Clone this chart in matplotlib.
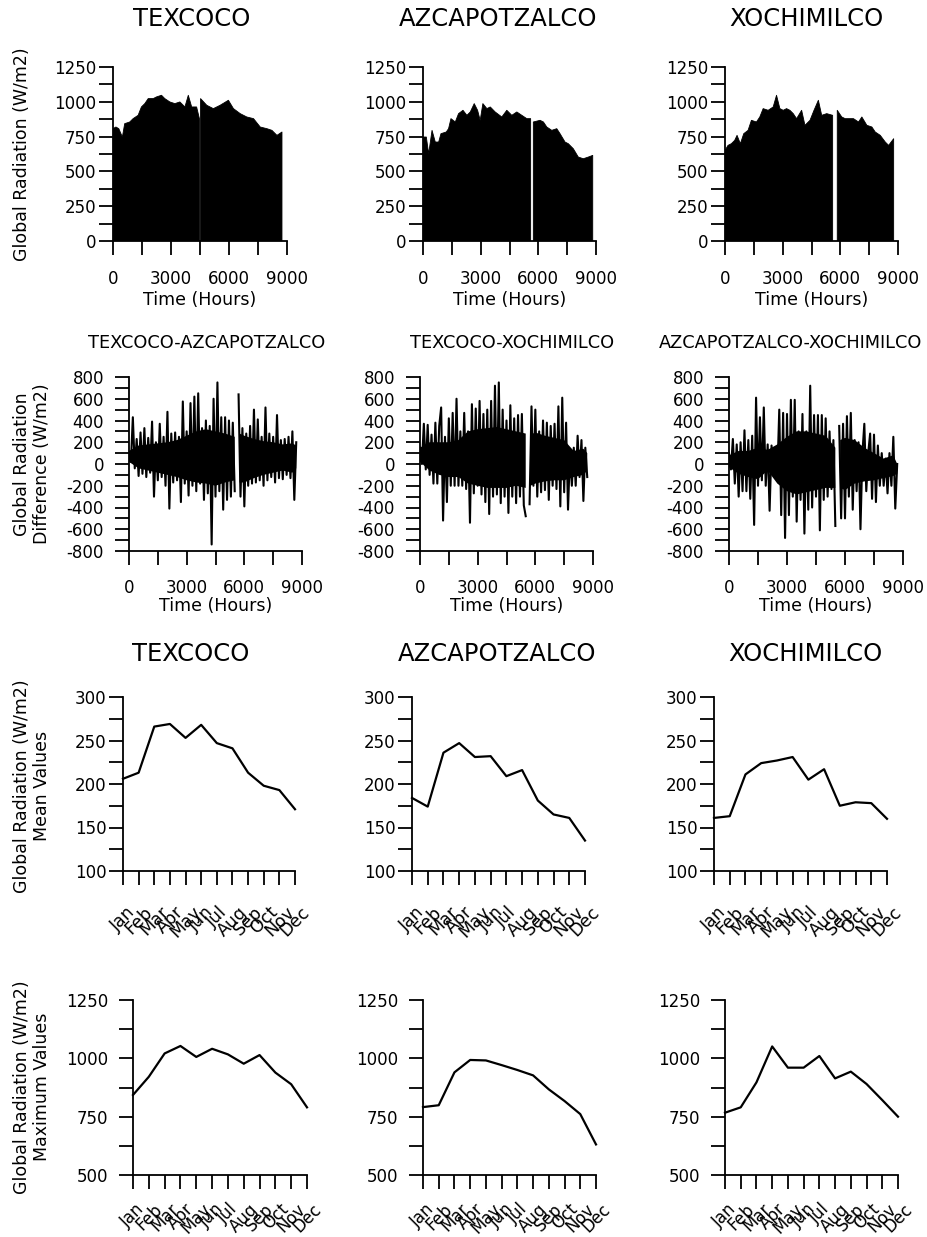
import numpy as np
import matplotlib
matplotlib.use('Agg')
import matplotlib.pyplot as plt
from matplotlib.ticker import MultipleLocator, FixedLocator

plt.rcParams['font.family'] = ['DejaVu Sans']
plt.rcParams['axes.unicode_minus'] = False

NAN = float('nan')

# ---------------- data ----------------
stations = ['TEXCOCO', 'AZCAPOTZALCO', 'XOCHIMILCO']
pairs = ['TEXCOCO-AZCAPOTZALCO', 'TEXCOCO-XOCHIMILCO', 'AZCAPOTZALCO-XOCHIMILCO']
months = ['Jan', 'Feb', 'Mar', 'Apr', 'May', 'Jun',
          'Jul', 'Aug', 'Sep', 'Oct', 'Nov', 'Dec']

# upper envelope (daily peaks) of hourly global radiation
texcoco_hours = [0, 150, 300, 485, 605, 865, 1040, 1300, 1470, 1645, 1820, 2080, 2250,
                 2510, 2680, 2940, 3200, 3460, 3720, 3895, 4070, 4325, 4470, 4500, 4530,
                 4850, 5190, 5540, 5970, 6230, 6580, 6920, 7270, 7615, 7960, 8220, 8480, 8740]
texcoco_peak = [807, 819, 807, 747, 843, 855, 879, 903, 963, 987, 1023, 1023, 1035,
                1047, 1023, 999, 987, 999, 963, 1047, 963, 963, 879, NAN, 1023,
                975, 951, 975, 1011, 951, 915, 891, 879, 819, 807, 795, 759, 783]

azcapotzalco_hours = [0, 173, 295, 470, 640, 815, 935, 1210, 1330, 1455, 1680, 1850, 2080,
                      2285, 2460, 2665, 2840, 2975, 3115, 3325, 3500, 3755, 4100, 4360, 4620,
                      4880, 5140, 5400, 5600, 5650, 5740, 6090, 6265, 6440, 6700, 6960, 7130,
                      7390, 7560, 7820, 8080, 8340, 8600, 8830]
azcapotzalco_peak = [747, 747, 627, 795, 711, 711, 771, 783, 807, 879, 855, 915, 939,
                     903, 927, 987, 939, 867, 987, 951, 963, 927, 891, 939, 903,
                     927, 903, 879, 879, NAN, 855, 867, 855, 819, 795, 807, 771,
                     711, 699, 663, 603, 591, 603, 615]

xochimilco_hours = [0, 157, 330, 505, 627, 800, 975, 1200, 1375, 1637, 1810, 1985, 2245,
                    2507, 2681, 2855, 3030, 3203, 3377, 3551, 3725, 3987, 4160, 4422, 4631,
                    4857, 5031, 5292, 5600, 5720, 5840, 6075, 6250, 6510, 6685, 6946, 7120,
                    7381, 7642, 7817, 8078, 8339, 8513, 8774]
xochimilco_peak = [650, 687, 699, 723, 759, 699, 771, 795, 867, 855, 891, 951, 939,
                   963, 1047, 951, 939, 951, 939, 915, 879, 939, 831, 867, 939,
                   1011, 903, 915, 903, NAN, 939, 891, 879, 879, 879, 855, 891,
                   831, 819, 783, 759, 711, 687, 735]

diff_step = 100
diff_tex_azc = [100, 20, 430, -40, 230, -110, 290, -90, 330, -120,
                240, -80, 390, -300, 200, -150, 370, -120, 250, -200,
                480, -410, 280, -170, 290, -150, 250, -350, 575, -180,
                300, -290, 560, -200, 620, -250, 650, -180, 330, -330,
                400, -270, 350, -740, 600, -300, 750, -250, 430, -420,
                430, -330, 400, -300, 380, -250, NAN, 640, -300, 330,
                -390, 280, -200, 350, -180, 500, -170, 410, -150, 250,
                -200, 520, -150, 280, -120, 250, -170, 450, -130, 220,
                -140, 230, -100, 250, -130, 300, -330, 200]
diff_tex_xoc = [150, 0, 370, -50, 360, -100, 270, -180, 380, -180,
                350, 520, -520, 250, -350, 420, -200, 470, -200, 600,
                -200, 300, -200, 470, -230, 300, -540, 550, -270, 510,
                -200, 580, -280, 460, -350, 500, -460, 580, -300, 720,
                -280, 750, -360, 500, -300, 400, -450, 540, -300, 420,
                -360, 450, -300, 460, -380, -480, NAN, -370, 530, -200,
                500, -300, 300, -260, 400, -240, 380, -330, 350, -200,
                370, -230, 530, -390, 610, -260, 380, -420, 100, -200,
                150, -200, 260, -120, 220, -340, 150, -120]
diff_azc_xoc = [100, -50, 230, -180, 180, -300, 200, -250, 310, -250,
                220, -320, 260, -560, 610, -200, 430, -150, 520, -200,
                180, -430, 170, -50, 100, -100, 500, -470, 470, -680,
                460, -470, 590, -300, 590, -530, 300, -330, 460, -640,
                300, -420, 720, -400, 450, -300, 450, -610, 450, -330,
                420, -300, 300, -230, 220, -570, NAN, 350, -500, 370,
                -500, 440, -300, 470, -420, 220, -250, 200, -600, 100,
                370, -250, 100, 280, -320, 270, -350, 170, -200, 100,
                -200, 50, -270, 100, -200, 250, -410, 0]

# dense core band of the hourly differences (upper / lower edges)
core_hours = [0, 500, 1000, 1500, 2000, 2500, 3000, 3500, 4000, 4500, 5000, 5500,
              5600, 5750, 6000, 6500, 7000, 7500, 8000, 8500, 8700]
core_tex_azc_hi = [120, 170, 180, 190, 200, 220, 260, 300, 320, 300, 280, 250,
                   NAN, 280, 260, 230, 210, 200, 180, 190, 170]
core_tex_azc_lo = [20, -40, -60, -80, -100, -120, -150, -170, -180, -200, -170, -150,
                   NAN, -170, -170, -130, -100, -80, -60, -80, -40]
core_tex_xoc_hi = [150, 200, 200, 200, 220, 300, 320, 330, 340, 320, 300, 280,
                   NAN, 270, 290, 260, 240, 220, 120, 140, 100]
core_tex_xoc_lo = [20, -60, -100, -120, -120, -180, -200, -220, -220, -220, -200, -220,
                   NAN, -200, -180, -160, -150, -150, -120, -100, -60]
core_azc_xoc_hi = [80, 120, 120, 150, 130, 180, 250, 300, 300, 280, 260, 150,
                   NAN, 220, 240, 220, 150, 100, 50, 80, 0]
core_azc_xoc_lo = [-30, -90, -120, -140, -60, -180, -250, -280, -260, -240, -220, -220,
                   NAN, -220, -240, -180, -160, -150, -130, -110, -90]

# monthly mean and maximum values (W/m2)
mean_texcoco = [206, 213, 266, 269, 253, 268, 247, 241, 213, 198, 193, 171]
mean_azcapotzalco = [184, 174, 236, 247, 231, 232, 209, 216, 181, 165, 161, 135]
mean_xochimilco = [161, 163, 211, 224, 227, 231, 205, 217, 175, 179, 178, 160]
max_texcoco = [843, 921, 1021, 1053, 1006, 1041, 1017, 977, 1014, 939, 889, 790]
max_azcapotzalco = [791, 799, 940, 993, 991, 971, 950, 927, 867, 817, 761, 631]
max_xochimilco = [767, 790, 897, 1051, 960, 960, 1010, 914, 943, 890, 821, 750]

# ---------------- layout ----------------
W, H = 927, 1237
fig = plt.figure(figsize=(W / 100, H / 100), dpi=100)

TICK = 12
LAB = 12.5


def add_ax(x0, x1, y0, y1):
    return fig.add_axes([x0 / W, 1 - y1 / H, (x1 - x0) / W, (y1 - y0) / H])


def style(ax, xpad, ypad, xsize=TICK):
    for s in ['top', 'right']:
        ax.spines[s].set_visible(False)
    for s in ['left', 'bottom']:
        ax.spines[s].set_linewidth(1.3)
    ax.tick_params(which='both', direction='out', length=10, width=1.3,
                   labelsize=TICK, colors='black')
    ax.tick_params(axis='x', which='both', pad=xpad, labelsize=xsize)
    ax.tick_params(axis='y', which='both', pad=ypad)


def ftext(x, y, s, **kw):
    fig.text(x / W, 1 - y / H, s, ha='center', va='center', **kw)


# Row 1: hourly radiation
row1_cols = [(113, 287), (423, 596), (725, 898)]
env_hours = [texcoco_hours, azcapotzalco_hours, xochimilco_hours]
env_vals = [texcoco_peak, azcapotzalco_peak, xochimilco_peak]
for i, (x0, x1) in enumerate(row1_cols):
    ax = add_ax(x0, x1, 67, 241)
    hrs = np.array(env_hours[i], dtype=float)
    vals = np.array(env_vals[i], dtype=float)
    ax.fill_between(hrs, 0, vals, color='black', lw=0.6, edgecolor='black')
    ax.set_xlim(0, 9000)
    ax.set_ylim(0, 1250)
    ax.xaxis.set_major_locator(MultipleLocator(3000))
    ax.xaxis.set_minor_locator(FixedLocator([1500, 4500, 7500]))
    ax.yaxis.set_major_locator(MultipleLocator(250))
    ax.yaxis.set_minor_locator(FixedLocator([125, 375, 625, 875, 1125]))
    style(ax, 11, 2)
    ftext((x0 + x1) / 2, 300, 'Time (Hours)', fontsize=LAB)
row1_titles = [(192, 19), (498, 19), (806, 19)]
for (cx, cy), s in zip(row1_titles, stations):
    ftext(cx, cy, s, fontsize=17.5)
ftext(22, 154, 'Global Radiation (W/m2)', fontsize=LAB, rotation=90)

# Row 2: differences
row2_cols = [(129, 302), (420, 593), (729, 903)]
diffs = [diff_tex_azc, diff_tex_xoc, diff_azc_xoc]
cores = [(core_tex_azc_lo, core_tex_azc_hi), (core_tex_xoc_lo, core_tex_xoc_hi),
         (core_azc_xoc_lo, core_azc_xoc_hi)]
for i, (x0, x1) in enumerate(row2_cols):
    ax = add_ax(x0, x1, 377, 551)
    lo = np.array(cores[i][0], dtype=float)
    hi = np.array(cores[i][1], dtype=float)
    ax.fill_between(np.array(core_hours, dtype=float), lo, hi, color='black', lw=0)
    vals = np.array(diffs[i], dtype=float)
    hrs = np.arange(len(vals)) * diff_step
    ax.plot(hrs, vals, color='black', lw=1.5)
    ax.set_xlim(0, 9000)
    ax.set_ylim(-800, 800)
    ax.xaxis.set_major_locator(MultipleLocator(3000))
    ax.xaxis.set_minor_locator(FixedLocator([1500, 4500, 7500]))
    ax.yaxis.set_major_locator(MultipleLocator(200))
    ax.yaxis.set_minor_locator(FixedLocator(np.arange(-700, 800, 200)))
    style(ax, 10, 8)
    ftext((x0 + x1) / 2, 606, 'Time (Hours)', fontsize=LAB)
row2_titles = [(207, 343), (512, 343), (791, 343)]
for (cx, cy), s in zip(row2_titles, pairs):
    ftext(cx, cy, s, fontsize=12.8)
ftext(32, 464, 'Global Radiation\nDifference (W/m2)', fontsize=LAB, rotation=90,
      multialignment='center')

# Row 3: monthly mean
row3_cols = [(123, 295), (412, 585), (714, 887)]
means = [mean_texcoco, mean_azcapotzalco, mean_xochimilco]
xm = np.arange(len(months))
for i, (x0, x1) in enumerate(row3_cols):
    ax = add_ax(x0, x1, 697, 871)
    ax.plot(xm, means[i], color='black', lw=1.6, clip_on=False)
    ax.set_xlim(0, 11)
    ax.set_ylim(100, 300)
    ax.set_xticks(xm)
    ax.set_xticklabels(months, rotation=45, ha='center')
    ax.yaxis.set_major_locator(MultipleLocator(50))
    ax.yaxis.set_minor_locator(FixedLocator([125, 175, 225, 275]))
    style(ax, 13, 2, xsize=12.5)
row3_titles = [(191, 654), (497, 654), (805, 654)]
for (cx, cy), s in zip(row3_titles, stations):
    ftext(cx, cy, s, fontsize=17.5)
ftext(32, 786, 'Global Radiation (W/m2)\nMean Values', fontsize=LAB, rotation=90,
      multialignment='center')

# Row 4: monthly maximum
row4_cols = [(133, 307), (423, 596), (725, 898)]
maxes = [max_texcoco, max_azcapotzalco, max_xochimilco]
for i, (x0, x1) in enumerate(row4_cols):
    ax = add_ax(x0, x1, 1000, 1175)
    ax.plot(xm, maxes[i], color='black', lw=1.6, clip_on=False)
    ax.set_xlim(0, 11)
    ax.set_ylim(500, 1250)
    ax.set_xticks(xm)
    ax.set_xticklabels(months, rotation=45, ha='center')
    ax.yaxis.set_major_locator(MultipleLocator(250))
    ax.yaxis.set_minor_locator(FixedLocator([625, 875, 1125]))
    style(ax, 8, 8, xsize=12)
ftext(32, 1087, 'Global Radiation (W/m2)\nMaximum Values', fontsize=LAB, rotation=90,
      multialignment='center')

fig.savefig('out.png', dpi=100)
